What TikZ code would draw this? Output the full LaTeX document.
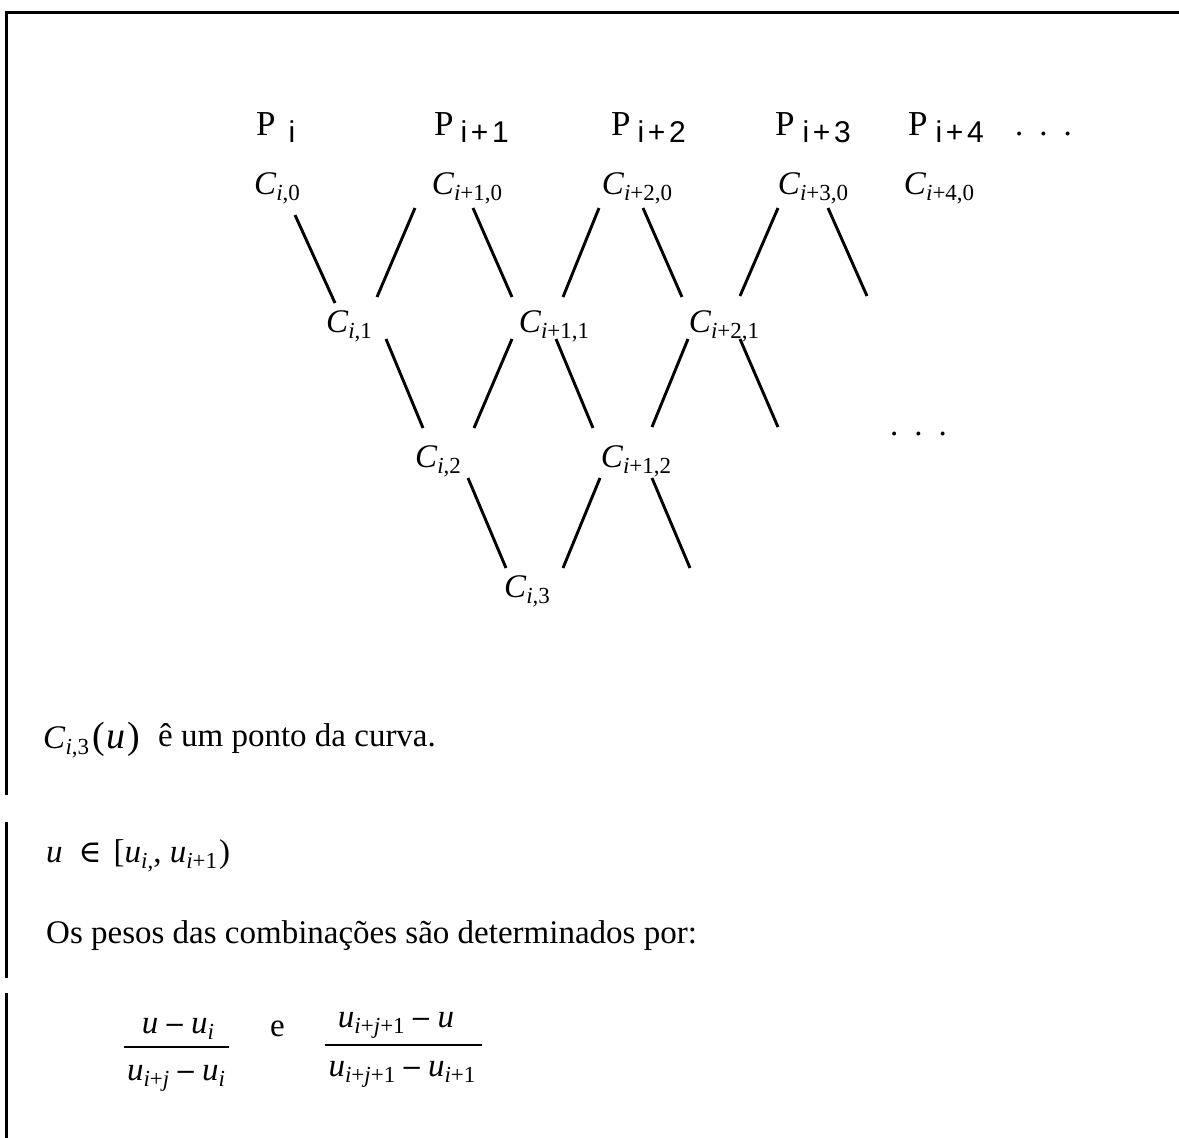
\documentclass[tikz,border=0pt]{standalone}
\usepackage{fontspec}
\setmainfont{Liberation Serif}
\newfontfamily\psubfont[LetterSpace=12]{Liberation Sans}
\newfontfamily\symfont{DejaVu Serif}
\usetikzlibrary{calc}
\newcommand{\sm}[1]{\raisebox{-6pt}{\fontsize{23}{23}\selectfont #1}}
\newcommand{\ii}{\textit{i}}
\newcommand{\jj}{\textit{j}}
\newcommand{\Cl}[1]{\textit{C}\sm{#1}}
\newcommand{\Pl}[2]{{\fontsize{35}{35}\selectfont P}\kern#1pt\raisebox{-7pt}{\fontsize{30}{30}\psubfont #2}}
\newcommand{\uu}{\textit{u}}
\newcommand{\mn}{\,{\symfont\fontsize{26}{26}\selectfont −}\,}
\tikzset{
  lbl/.style={inner sep=0pt, anchor=base, font=\fontsize{33}{38}\selectfont},
  txt/.style={inner sep=0pt, anchor=base west, font=\fontsize{33}{38}\selectfont},
  conn/.style={line width=2.9pt},
  frameline/.style={line width=3pt},
  fracbar/.style={line width=1.6pt}
}
\begin{document}
\begin{tikzpicture}[x=1pt,y=-1pt]
\useasboundingbox (0,0) rectangle (1179,1138);
% frame
\draw[frameline] (6,12) -- (1179,12);
\draw[frameline] (6,10.5) -- (6,795);
\draw[frameline] (6,822) -- (6,978);
\draw[frameline] (6,993) -- (6,1138);
% P row
\node[txt] (p0) at (256,135) {\Pl{13}{i}};
\node[txt] (p1) at (434,135) {\Pl{7}{i+1}};
\node[txt] (p2) at (611,135) {\Pl{7}{i+2}};
\node[txt] (p3) at (775,135) {\Pl{8}{i+3}};
\node[txt] (p4) at (908,135) {\Pl{8}{i+4}};
\node[txt] (pd) at (1015,135) {.\hspace{16pt}.\hspace{16pt}.};
% C nodes
\node[lbl] (c00) at (277,194) {\Cl{\ii,0}};
\node[lbl] (c10) at (467,194) {\Cl{\ii+1,0}};
\node[lbl] (c20) at (637,194) {\Cl{\ii+2,0}};
\node[lbl] (c30) at (813,194) {\Cl{\ii+3,0}};
\node[lbl] (c40) at (939,194) {\Cl{\ii+4,0}};
\node[lbl] (c01) at (349,332) {\Cl{\ii,1}};
\node[lbl] (c11) at (554,332) {\Cl{\ii+1,1}};
\node[lbl] (c21) at (724,332) {\Cl{\ii+2,1}};
\node[lbl] (c02) at (438,467) {\Cl{\ii,2}};
\node[lbl] (c12) at (636,467) {\Cl{\ii+1,2}};
\node[lbl] (c03) at (527,597) {\Cl{\ii,3}};
\node[txt] (dd) at (890,435) {.\hspace{16pt}.\hspace{16pt}.};
\coordinate (e30) at (867,296);
\coordinate (e21) at (778,427);
\coordinate (e12) at (690,568);
% connectors
\draw[conn] ([shift={(18,21)}]c00.base) -- ([shift={(-14,-29)}]c01.base);
\draw[conn] ([shift={(-52,14)}]c10.base) -- ([shift={(28,-35)}]c01.base);
\draw[conn] ([shift={(6,14)}]c10.base) -- ([shift={(-42,-35)}]c11.base);
\draw[conn] ([shift={(-38,14)}]c20.base) -- ([shift={(9,-35)}]c11.base);
\draw[conn] ([shift={(6,14)}]c20.base) -- ([shift={(-42,-35)}]c21.base);
\draw[conn] ([shift={(-35,14)}]c30.base) -- ([shift={(16,-36)}]c21.base);
\draw[conn] ([shift={(15,14)}]c30.base) -- (e30);
\draw[conn] ([shift={(37,7)}]c01.base) -- ([shift={(-15,-39)}]c02.base);
\draw[conn] ([shift={(-42,7)}]c11.base) -- ([shift={(36,-39)}]c02.base);
\draw[conn] ([shift={(2,7)}]c11.base) -- ([shift={(-43,-39)}]c12.base);
\draw[conn] ([shift={(-36,7)}]c21.base) -- ([shift={(16,-40)}]c12.base);
\draw[conn] ([shift={(16,7)}]c21.base) -- (e21);
\draw[conn] ([shift={(30,11)}]c02.base) -- ([shift={(-21,-29)}]c03.base);
\draw[conn] ([shift={(-36,11)}]c12.base) -- ([shift={(36,-29)}]c03.base);
\draw[conn] ([shift={(16,11)}]c12.base) -- (e12);
% texts
\node[txt] (t1) at (43,748) {\Cl{\ii,3}\kern3pt{\fontsize{38}{38}\selectfont(\kern2pt\uu\kern2pt)}};
\node[txt] (t2) at (158,746) {ê um ponto da curva.};
\node[txt] (t3) at (46,862) {\uu\hspace{16pt}{\symfont\fontsize{31}{31}\selectfont ∈}\hspace{12pt}[\uu\sm{\ii,}, \uu\sm{\ii+1}\kern2pt)};
\node[txt] (t4) at (46,943) {Os pesos das combinações são determinados por:};
% fractions
\node[lbl] (f1n) at (178,1033) {\uu\mn\uu\sm{\ii}};
\node[lbl] (f1d) at (176,1080) {\uu\sm{\ii+\jj}\mn\uu\sm{\ii}};
\draw[fracbar] (124,1047) -- (229,1047);
\node[txt] (ee) at (270,1036) {e};
\node[lbl] (f2n) at (396,1027) {\uu\sm{\ii+\jj+1}\mn\uu};
\node[lbl] (f2d) at (402,1076) {\uu\sm{\ii+\jj+1}\mn\uu\sm{\ii+1}};
\draw[fracbar] (325,1045) -- (482,1045);
\end{tikzpicture}
\end{document}
